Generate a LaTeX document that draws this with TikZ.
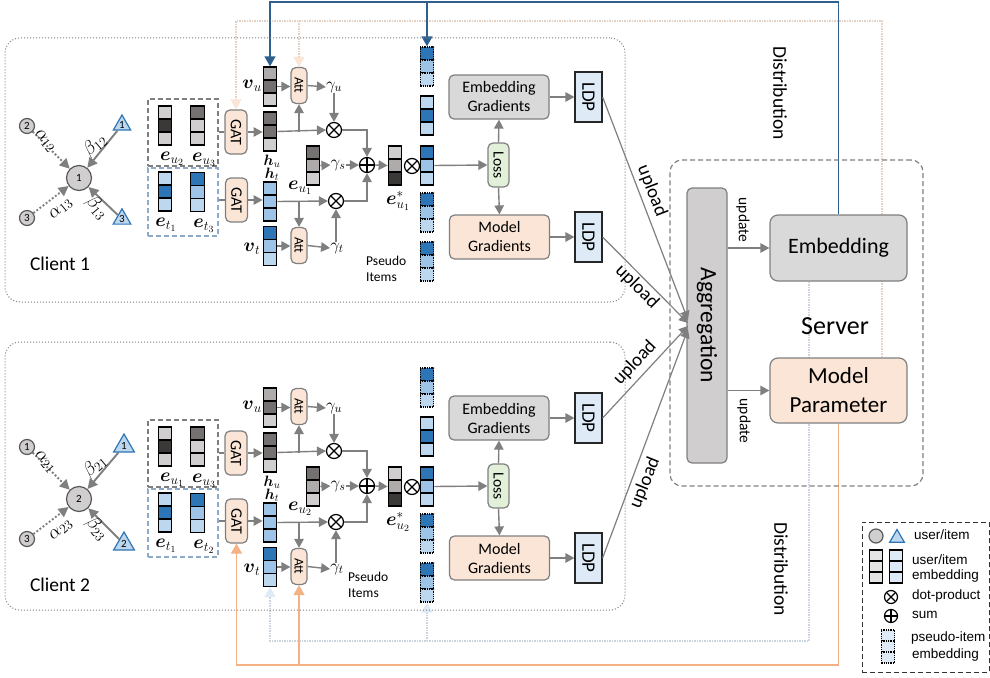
\RequirePackage{fix-cm}
\documentclass[tikz,border=0pt]{standalone}
\usepackage{amsmath}
\usepackage[no-math]{fontspec}
\setmainfont{Carlito}
\newfontfamily\legendfont{Liberation Sans}
\usetikzlibrary{arrows.meta,calc,shapes.geometric,backgrounds}

\definecolor{gA}{HTML}{D0CECE}
\definecolor{gB}{HTML}{AFABAB}
\definecolor{gC}{HTML}{767171}
\definecolor{gD}{HTML}{3B3838}
\definecolor{bA}{HTML}{BDD7EE}
\definecolor{bB}{HTML}{9DC3E6}
\definecolor{bC}{HTML}{2E75B6}
\definecolor{paleblue}{HTML}{DEEBF7}
\definecolor{peach}{HTML}{FBE5D6}
\definecolor{linegrey}{HTML}{7F7F7F}
\definecolor{boxgrey}{HTML}{D9D9D9}
\definecolor{lossgreen}{HTML}{E2F0D9}
\definecolor{navyline}{HTML}{2F5F8F}
\definecolor{orangeline}{HTML}{F4B183}
\definecolor{dashblue}{HTML}{8FAAC8}

\def\cellh{13}
\newcommand{\embstack}[7][cell]{%
  \node[#1,fill=#5] (#2-1) at (#3,#4+0.5*\cellh) {};
  \node[#1,fill=#6] (#2-2) at (#3,#4+1.5*\cellh) {};
  \node[#1,fill=#7] (#2-3) at (#3,#4+2.5*\cellh) {};
}
\newcommand{\vtext}[1]{\rotatebox[origin=c]{-90}{#1}}

\tikzset{
  cell/.style={draw=black,line width=1.3pt,minimum width=13.5pt,minimum height=\cellh pt,inner sep=0pt},
  dotcell/.style={cell,densely dotted},
  arr/.style={draw=linegrey,line width=1.4pt,-{Triangle[length=9pt,width=9.5pt]}},
  plainline/.style={draw=linegrey,line width=1.4pt},
  graphedge/.style={draw=linegrey,line width=1.9pt,-{Triangle[length=10pt,width=10pt]}},
  bluedist/.style={draw=navyline,line width=1.4pt},
  orangedist/.style={draw=orangeline,line width=1.5pt},
  peachdist/.style={draw=peach!80!linegrey,line width=1.5pt,densely dotted},
  palebluedist/.style={draw=paleblue!80!linegrey,line width=1.5pt,densely dotted},
  longdash/.style={dash pattern=on 5pt off 3pt},
  box/.style={draw=linegrey,line width=1.2pt,rounded corners=5pt,inner sep=0pt,align=center},
  ldpbox/.style={draw=black!85,line width=1.2pt,fill=paleblue,minimum width=27pt,minimum height=50pt,inner sep=0pt,font=\fontsize{19}{20}\selectfont},
  attbox/.style={box,fill=peach,minimum width=16pt,minimum height=36pt,font=\fontsize{13.5}{14}\selectfont},
  gatbox/.style={box,fill=peach,minimum width=22pt,minimum height=44pt,font=\fontsize{16}{17}\selectfont},
  gradbox/.style={box,minimum width=100pt,minimum height=44pt,font=\fontsize{16}{19}\selectfont},
  dotnode/.style={circle,draw=black,line width=1.2pt,minimum size=15pt,inner sep=0pt,fill=white,
    path picture={\draw[line width=1.2pt] (path picture bounding box.north west) -- (path picture bounding box.south east)
      (path picture bounding box.north east) -- (path picture bounding box.south west);}},
  sumnode/.style={circle,draw=black,line width=1.2pt,minimum size=15pt,inner sep=0pt,fill=white,
    path picture={\draw[line width=1.2pt] (path picture bounding box.north) -- (path picture bounding box.south)
      (path picture bounding box.east) -- (path picture bounding box.west);}},
  usernode/.style={circle,draw=black!65,line width=1.2pt,fill=gA,inner sep=0pt,font=\fontsize{11}{11}\selectfont},
  itemnode/.style={regular polygon,regular polygon sides=3,draw=bC,line width=1.2pt,fill=bA,inner sep=0pt,font=\fontsize{11}{11}\selectfont},
  mathlab/.style={inner sep=0pt,font=\fontsize{19}{20}\selectfont},
  gamlab/.style={inner sep=0pt,font=\fontsize{17}{18}\selectfont},
  hlab/.style={inner sep=0pt,font=\fontsize{15}{16}\selectfont},
  upload/.style={inner sep=0pt,font=\fontsize{19}{20}\selectfont},
  update/.style={inner sep=0pt,font=\fontsize{15.5}{16}\selectfont},
  clientbox/.style={draw=linegrey,line width=1pt,dotted,rounded corners=15pt,minimum width=620pt},
}

\begin{document}
\begin{tikzpicture}[x=1pt,y=-1pt]
  \useasboundingbox (0,0) rectangle (990,677);

  \node[clientbox,minimum height=264pt] (client1) at (315,170) {};
  \node[clientbox,minimum height=268pt] (client2) at (315,476) {};

  \foreach \cl/\dy/\ua/\ub/\ib/\tsz/\tyb/\px/\py in {1/0/2/3/3/17/219/366/269, 2/321/1/3/2/24/223/348/264} {
    \begin{scope}[shift={(0,\dy)},name prefix=c\cl-]
      % interaction graph
      \node[usernode,minimum size=25pt] (u) at (79,178) {\cl};
      \node[usernode,minimum size=15pt] (ua) at (27,126) {\ua};
      \node[usernode,minimum size=15pt] (ub) at (27,218) {\ub};
      \node[itemnode,minimum size=\tsz pt] (ia) at (122+\dy/160,125) {1};
      \node[itemnode,minimum size=\tsz pt] (ib) at (122+\dy/160,\tyb) {\ib};
      \draw[graphedge,dotted] (ua) -- (u);
      \draw[graphedge,dotted] (ub) -- (u);
      \draw[graphedge] (ia) -- (u);
      \draw[graphedge] (ib) -- (u);
      \node[mathlab,rotate=-50] (la) at (45,141) {$\alpha_{\cl\ua}$};
      \node[mathlab,rotate=40] (lb) at (61,209) {$\alpha_{\cl\ub}$};
      \node[mathlab,rotate=40] (lc) at (95,145) {$\beta_{\cl\ua}$};
      \node[mathlab,rotate=-50] (ld) at (97,208) {$\beta_{\cl\ub}$};
      \node[font=\fontsize{19.5}{20}\selectfont] (name) at (60,264) {Client \cl};

      % neighbour embeddings
      \node[draw=linegrey,line width=1.1pt,longdash,minimum width=70pt,minimum height=67pt] (ublock) at (183,132.5) {};
      \node[draw=dashblue,line width=1.1pt,longdash,minimum width=70pt,minimum height=68pt] (iblock) at (183,202) {};
      \embstack{eua}{165}{106}{gA}{gD}{gA}
      \embstack{eub}{197.5}{106}{gC}{gA}{gA}
      \embstack{eia}{165}{172}{bA}{bC}{bA}
      \embstack{eib}{197.5}{172.5}{bC}{bB}{bA}
      \node[mathlab] (leua) at (172,159) {$\boldsymbol{e}_{u_\ua}$};
      \node[mathlab] (leub) at (204,160) {$\boldsymbol{e}_{u_\ub}$};
      \node[mathlab] (leia) at (166,225) {$\boldsymbol{e}_{t_1}$};
      \node[mathlab] (leib) at (204,226) {$\boldsymbol{e}_{t_\ib}$};

      % attention part
      \node[gatbox] (gat1) at (236,132) {\vtext{GAT}};
      \node[gatbox] (gat2) at (236.5,200) {\vtext{GAT}};
      \node[hlab] (lhu) at (272,161) {$\boldsymbol{h}_u$};
      \node[hlab] (lht) at (272,174) {$\boldsymbol{h}_t$};
      \embstack{vu}{270}{67}{gB}{gC}{gA}
      \embstack{hu}{270}{112}{gC}{gC}{gA}
      \embstack{ht}{270}{182}{bB}{bB}{bB}
      \embstack{vt}{270}{226.5}{bC}{bB}{bA}
      \node[mathlab] (lvu) at (252,86) {$\boldsymbol{v}_u$};
      \node[mathlab] (lvt) at (252,249) {$\boldsymbol{v}_t$};
      \node[attbox] (att1) at (299,85.5) {\vtext{Att}};
      \node[attbox] (att2) at (299,245.5) {\vtext{Att}};
      \node[gamlab] (gu) at (334,87) {$\gamma_u$};
      \node[gamlab] (gt) at (337,248) {$\gamma_t$};
      \node[dotnode] (ot1) at (334,130) {};
      \node[dotnode] (ot2) at (336,201) {};
      \embstack{eu}{313}{146}{gC}{gB}{gA}
      \node[mathlab] (leu) at (300,188) {$\boldsymbol{e}_{u_\cl}$};
      \node[gamlab] (gs) at (338,165) {$\gamma_s$};
      \node[sumnode] (sum) at (367,165) {};
      \embstack{es}{395}{146}{gA}{gB}{gD}
      \node[mathlab] (les) at (398,201) {$\boldsymbol{e}_{u_\cl}^{*}$};
      \node[dotnode] (ot3) at (412,166) {};

      % items
      \embstack[dotcell]{psa}{427}{47}{bC}{bB}{bA}
      \embstack{ita}{427}{96}{bA}{bC}{bA}
      \embstack{itb}{427}{146}{bC}{bB}{bA}
      \embstack[dotcell]{psb}{427}{193}{bC}{bB}{bA}
      \embstack[dotcell]{psc}{427}{242}{bC}{bB}{bA}
      \node[anchor=west,align=left,inner sep=0pt,font=\fontsize{13.5}{16}\selectfont] (lps) at (\px,\py) {Pseudo\\Items};

      % gradients
      \node[gradbox,fill=boxgrey] (eg) at (499,97) {Embedding\\Gradients};
      \node[gradbox,fill=peach] (mg) at (499.5,237) {Model\\Gradients};
      \node[box,fill=lossgreen,minimum width=21pt,minimum height=44pt,font=\fontsize{15.5}{16}\selectfont] (loss) at (498.5,165) {\vtext{Loss}};
      \node[ldpbox] (ldp1) at (588.5,97) {\vtext{LDP}};
      \node[ldpbox] (ldp2) at (588.5,237) {\vtext{LDP}};

      \draw[plainline] (ublock.east |- gat1) -- (gat1.west);
      \draw[plainline] (iblock.east |- gat2) -- (gat2.west);
      \draw[arr] (gat1.east) -- (gat1.east -| hu-2.west);
      \draw[arr] (gat2.east) -- (gat2.east -| ht-2.west);
      \draw[arr] (vu-2.east) -- (vu-2.east -| att1.west);
      \draw[arr] (vt-2.east) -- (vt-2.east -| att2.west);
      \draw[arr] (att1.east) -- (gu.west);
      \draw[arr] (att2.east) -- (gt.west);
      \draw[arr] (hu-2.east) -- (ot1.west);
      \draw[arr] (ht-2.east) -- (ot2.west);
      \draw[arr] (hu-2.east -| att1.south) -- (att1.south);
      \draw[arr] (ht-2.east -| att2.north) -- (att2.north);
      \draw[arr] (gu.south -| ot1) -- (ot1.north);
      \draw[arr] (gt.north -| ot2) -- (ot2.south);
      \draw[arr] (ot1.east) -| (sum.north);
      \draw[arr] (ot2.east) -| (sum.south);
      \draw[arr] (eu-2.east) -- (gs.west);
      \draw[arr] (gs.east) -- (sum.west);
      \draw[arr] (sum.east) -- (es-2.west);
      \draw[arr] (itb-2.east) -- (loss.west);
      \draw[arr] (loss.north) -- (eg.south);
      \draw[arr] (loss.south) -- (mg.north);
      \draw[arr] (eg.east) -- (ldp1.west);
      \draw[arr] (mg.east) -- (ldp2.west);
    \end{scope}
  }

  % server
  \node[draw=linegrey,line width=1.2pt,longdash,rounded corners=12pt,minimum width=253pt,minimum height=326pt] (server) at (796.5,323) {};
  \node[box,fill=gA,minimum width=40pt,minimum height=275pt,font=\fontsize{23.5}{24}\selectfont] (agg) at (707,325.5) {\vtext{Aggregation}};
  \node[box,fill=boxgrey,rounded corners=8pt,minimum width=137pt,minimum height=66pt,font=\fontsize{22}{24}\selectfont] (emb) at (838.5,248) {Embedding};
  \node[box,fill=peach,rounded corners=8pt,minimum width=137pt,minimum height=65pt,font=\fontsize{23}{29}\selectfont] (mparam) at (838.5,390.5) {Model\\Parameter};
  \node[inner sep=0pt,font=\fontsize{26}{27}\selectfont] (lserver) at (835,326) {Server};
  \draw[arr,line width=1.2pt] (agg.east |- emb) -- (emb.west);
  \draw[arr,line width=1.2pt] (agg.east |- mparam) -- (mparam.west);
  \node[update] (lupa) at (743,220) {\vtext{update}};
  \node[update] (lupb) at (744,421) {\vtext{update}};

  % uploads
  \coordinate (ina) at (688,320);
  \coordinate (inb) at (688,323);
  \coordinate (inc) at (688,326);
  \coordinate (ind) at (688,329);
  \draw[arr,line width=1.2pt] (c1-ldp1.east) -- (ina);
  \draw[arr,line width=1.2pt] (c1-ldp2.east) -- (inb);
  \draw[arr,line width=1.2pt] (c2-ldp1.east) -- (inc);
  \draw[arr,line width=1.2pt] (c2-ldp2.east) -- (ind);
  \node[upload,rotate=-69] (lula) at (652,191) {upload};
  \node[upload,rotate=-45] (lulb) at (637,287) {upload};
  \node[upload,rotate=47] (lulc) at (635,363) {upload};
  \node[upload,rotate=68] (luld) at (645,483) {upload};

  % distribution
  \node[inner sep=0pt,font=\fontsize{19.5}{20}\selectfont] (ldista) at (780,93) {\vtext{Distribution}};
  \node[inner sep=0pt,font=\fontsize{19.5}{20}\selectfont] (ldistb) at (781,569) {\vtext{Distribution}};
  \coordinate (bluetop) at (838.5,2);
  \coordinate (peachtop) at (882,21);
  \coordinate (palebot) at (809,641);
  \coordinate (orangebot) at (838.5,665);
  \begin{scope}[on background layer]
    \draw[peachdist,-{Triangle[length=10pt,width=11pt,color=peach]}] (mparam.north -| peachtop) -- (peachtop) -- (peachtop -| c1-gat1) -- (c1-gat1.north);
    \draw[peachdist,-{Triangle[length=10pt,width=11pt,color=peach]}] (peachtop -| c1-att1) -- (c1-att1.north);
    \draw[palebluedist,-{Triangle[length=10pt,width=11pt,color=paleblue]}] (emb.south -| palebot) -- (palebot) -- (palebot -| c2-vt-3) -- (c2-vt-3.south);
    \draw[palebluedist,-{Triangle[length=10pt,width=11pt,color=paleblue]}] (palebot -| c2-psc-3) -- (c2-psc-3.south);
    \draw[bluedist,-{Triangle[length=10pt,width=11pt]}] (emb.north) -- (bluetop) -- (bluetop -| c1-vu-1) -- (c1-vu-1.north);
    \draw[bluedist,-{Triangle[length=10pt,width=11pt]}] (bluetop -| c1-psa-1) -- (c1-psa-1.north);
    \draw[orangedist,-{Triangle[length=10pt,width=11pt]}] (mparam.south) -- (orangebot) -- (orangebot -| c2-gat2) -- (c2-gat2.south);
    \draw[orangedist,-{Triangle[length=10pt,width=11pt]}] (orangebot -| c2-att2) -- (c2-att2.south);
  \end{scope}

  % legend
  \node[draw=black!80,line width=1pt,longdash,minimum width=127pt,minimum height=150pt] (legend) at (925.5,597) {};
  \node[usernode,fill=gA,minimum size=14pt] (legu) at (876,536) {};
  \node[itemnode,minimum size=17pt] (legi) at (897,538) {};
  \begin{scope}[font=\legendfont\fontsize{13.5}{14}\selectfont]
    \def\cellh{11}
    \embstack[cell]{lega}{876}{550}{boxgrey!70}{boxgrey!70}{boxgrey!70}
    \embstack[cell]{legb}{896}{550}{paleblue}{paleblue}{paleblue}
    \embstack[dotcell]{legc}{888}{630}{paleblue}{paleblue}{paleblue}
    \node[dotnode,minimum size=13pt] (lego) at (891,597) {};
    \node[sumnode,minimum size=13pt] (legs) at (891,616) {};
    \node[anchor=west,inner sep=0pt] (ltu) at (914,535) {user/item};
    \node[anchor=west,inner sep=0pt] (ltv) at (912,560) {user/item};
    \node[anchor=west,inner sep=0pt] (ltw) at (912,576) {embedding};
    \node[anchor=west,inner sep=0pt] (ltx) at (912,596) {dot-product};
    \node[anchor=west,inner sep=0pt] (lty) at (912,615) {sum};
    \node[anchor=west,inner sep=0pt] (ltz) at (911,638) {pseudo-item};
    \node[anchor=west,inner sep=0pt] (ltq) at (912,655) {embedding};
  \end{scope}
\end{tikzpicture}
\end{document}
